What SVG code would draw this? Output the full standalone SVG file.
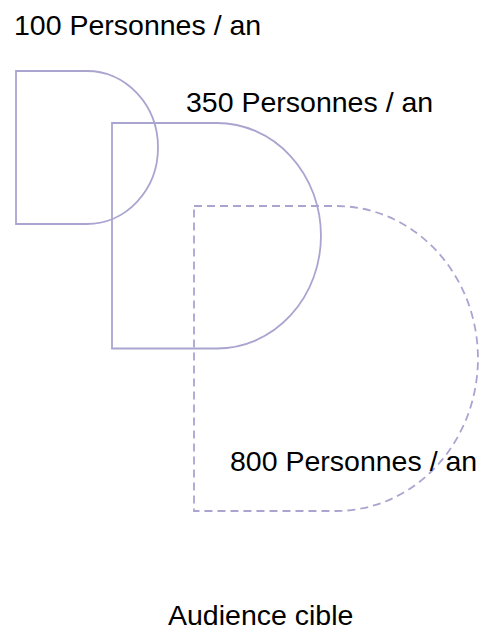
<svg xmlns="http://www.w3.org/2000/svg" width="482" height="632" viewBox="0 0 482 632">
<style>
.shape{fill:none;stroke:#A9A5D0;stroke-width:1.8}
.dash{stroke-dasharray:8 5}
.lbl{font-family:"Liberation Sans",Arial,sans-serif;font-size:28.5px;fill:#000}
</style>
<rect width="482" height="632" fill="#fff"/>
<g id="audience-100">
<path class="shape" d="M16,71 H87 A71,76.5 0 0 1 87,224 H16 Z"/>
</g>
<g id="audience-350">
<path class="shape" d="M112,123 H217 A104,112.75 0 0 1 217,348.5 H112 Z"/>
</g>
<g id="audience-800">
<path class="shape dash" d="M194,206 H336 A142,152.5 0 0 1 336,511 H194 Z"/>
</g>
<g id="connectors"/>
<g id="labels">
<text class="lbl" x="14" y="35">100 Personnes / an</text>
<text class="lbl" x="186" y="111.5">350 Personnes / an</text>
<text class="lbl" x="230" y="470.5">800 Personnes / an</text>
<text class="lbl" x="168" y="625">Audience cible</text>
</g>
</svg>
